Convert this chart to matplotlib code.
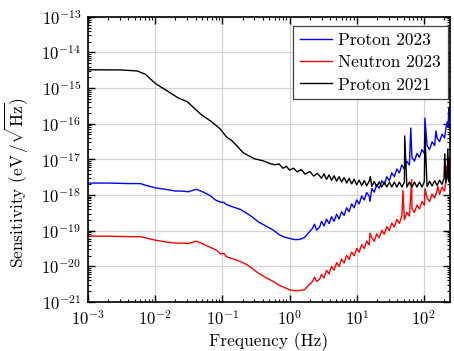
import numpy as np
import matplotlib
matplotlib.use("Agg")
import matplotlib.pyplot as plt
from matplotlib.ticker import LogLocator, NullFormatter

plt.rcParams['font.family'] = 'serif'
plt.rcParams['font.serif'] = ['cmr10']
plt.rcParams['mathtext.fontset'] = 'cm'
plt.rcParams['axes.formatter.use_mathtext'] = True
plt.rcParams['axes.unicode_minus'] = False

# Proton 2023 (blue)
freq_p23 = [0.001, 0.002, 0.004, 0.006, 0.007, 0.01, 0.015, 0.02, 0.025, 0.031, 0.041, 0.052,
            0.065, 0.081, 0.095, 0.105, 0.115, 0.146, 0.185, 0.236, 0.29, 0.344, 0.45, 0.577,
            0.7, 0.81, 1.0, 1.2, 1.41, 1.67, 1.9, 2.2, 2.36, 2.53, 2.8,
            3.0, 3.27, 3.56, 3.88, 4.23, 4.61, 5.03, 5.48, 5.97, 6.51, 7.1, 7.73, 8.43, 9.19,
            10.0, 10.9, 11.9, 13.0, 14.1, 15.4, 15.8, 16.8, 18.3, 19.9, 21.7, 23.7, 25.8,
            28.1, 30.7, 33.4, 36.4, 39.7, 43.3, 47.2, 51.4, 56.0, 61.1, 64, 66.6, 72.6, 79.1,
            86.2, 94.0, 102, 104, 112, 122, 133, 145, 152, 158, 172, 187, 204, 213, 223, 230,
            236, 240, 245]
sens_p23 = [2.16e-18, 2.16e-18, 2.09e-18, 2.09e-18, 1.90e-18, 1.59e-18, 1.42e-18, 1.29e-18,
            1.29e-18, 1.23e-18, 1.45e-18, 1.20e-18, 9.7e-19, 7.03e-19, 6.3e-19, 6.18e-19,
            5.4e-19, 4.57e-19, 3.94e-19, 2.99e-19, 2.29e-19, 1.75e-19, 1.33e-19, 1.03e-19,
            7.69e-20, 6.7e-20, 6.03e-20, 5.58e-20, 5.65e-20, 6.4e-20, 8.47e-20, 1.15e-19,
            1.51e-19, 1.03e-19, 1.24e-19,
            1.82e-19, 1.35e-19, 2.09e-19, 1.58e-19, 2.45e-19, 1.82e-19, 2.88e-19, 2.14e-19,
            3.39e-19, 2.66e-19, 4.37e-19, 3.41e-19, 5.62e-19, 4.37e-19, 7.24e-19, 5.62e-19,
            9.33e-19, 7.24e-19, 1.17e-18, 9.33e-19, 6.61e-19, 1.51e-18, 1.20e-18, 1.95e-18,
            1.53e-18, 2.51e-18, 2.00e-18, 3.24e-18, 2.54e-18, 4.17e-18, 3.26e-18, 5.37e-18,
            4.19e-18, 6.92e-18, 5.37e-18, 8.81e-18, 6.92e-18, 7.59e-17, 1.13e-17, 8.91e-18,
            1.46e-17, 1.15e-17, 1.87e-17, 1.46e-17, 1.44e-16, 2.42e-17, 1.89e-17, 3.11e-17,
            2.43e-17, 6.31e-17, 4.00e-17, 3.13e-17, 5.11e-17, 4.01e-17, 7.08e-17, 1.12e-16,
            7.94e-17, 2.82e-16, 1.41e-16, 2.51e-16]

# Neutron 2023 (red)
freq_n23 = [0.001, 0.002, 0.004, 0.006, 0.007, 0.01, 0.015, 0.02, 0.025, 0.031, 0.041, 0.052,
            0.065, 0.081, 0.095, 0.105, 0.115, 0.146, 0.185, 0.236, 0.29, 0.344, 0.45, 0.577,
            0.7, 0.81, 1.0, 1.2, 1.41, 1.67, 1.9, 2.2, 2.36, 2.53, 2.8,
            3.0, 3.27, 3.56, 3.88, 4.23, 4.61, 5.03, 5.48, 5.97, 6.51, 7.1, 7.73, 8.43, 9.19,
            10.0, 10.9, 11.9, 13.0, 14.1, 15.4, 15.8, 16.8, 18.3, 19.9, 21.7, 23.7, 25.8,
            28.1, 30.7, 33.4, 36.4, 39.7, 43.3, 47.2, 49, 51.4, 56.0, 61.1, 66, 66.6, 72.6,
            79.1, 86.2, 94.0, 102, 104, 112, 122, 133, 145, 158, 162, 172, 187, 204, 213, 220,
            228, 236, 240, 245]
sens_n23 = [6.98e-20, 6.98e-20, 6.76e-20, 6.76e-20, 6.34e-20, 5.40e-20, 4.75e-20, 4.46e-20,
            4.46e-20, 4.32e-20, 5.07e-20, 4.18e-20, 3.45e-20, 2.84e-20, 2.20e-20, 2.30e-20,
            1.85e-20, 1.60e-20, 1.36e-20, 1.09e-20, 8.15e-21, 6.38e-21, 4.72e-21, 3.72e-21,
            2.92e-21, 2.60e-21, 2.19e-21, 2.05e-21, 2.09e-21, 2.19e-21, 2.83e-21, 3.72e-21,
            4.94e-21, 3.72e-21, 4.29e-21,
            5.89e-21, 4.68e-21, 7.67e-21, 6.08e-21, 9.93e-21, 7.73e-21, 1.26e-20, 9.77e-21,
            1.58e-20, 1.23e-20, 2.00e-20, 1.55e-20, 2.51e-20, 1.96e-20, 3.16e-20, 2.47e-20,
            4.04e-20, 3.14e-20, 5.07e-20, 3.95e-20, 8.51e-20, 6.41e-20, 4.99e-20, 8.09e-20,
            6.28e-20, 1.02e-19, 7.94e-20, 1.29e-19, 1.00e-19, 1.63e-19, 1.26e-19, 2.06e-19,
            1.60e-19, 2.60e-19, 1.33e-18, 2.02e-19, 3.27e-19, 2.55e-19, 2.70e-18, 4.14e-19,
            3.22e-19, 5.22e-19, 4.07e-19, 6.61e-19, 5.11e-19, 1.51e-18, 8.36e-19, 6.49e-19,
            1.06e-18, 8.20e-19, 1.33e-18, 1.74e-18, 1.04e-18, 1.67e-18, 1.30e-18, 2.51e-18,
            6.31e-18, 3.16e-18, 1.12e-17, 3.98e-18, 5.01e-18]

# Proton 2021 (black)
freq_p21 = [0.001, 0.003, 0.0054, 0.0072, 0.01, 0.014, 0.022, 0.03, 0.048, 0.069, 0.093,
            0.115, 0.14, 0.205, 0.3, 0.4, 0.52, 0.6,
            0.7, 0.8, 0.9, 1.0, 1.15, 1.3, 1.5, 1.7, 2.0, 2.3, 2.6,
            3.0, 3.27, 3.56, 3.88, 4.23, 4.61, 5.03, 5.48, 5.97, 6.51, 7.1, 7.73, 8.43, 9.19,
            10.0, 10.9, 11.9, 13.0, 14.1, 15.4, 16, 16.8, 18.3, 19.9, 21.7, 23.7, 25.8, 28.1,
            30.7, 33.4, 36.4, 39.7, 43.3, 47.2, 51.4, 52, 56.0, 61.1, 66.6, 72.6, 79.1, 86.2,
            94.0, 102, 104, 112, 122, 133, 145, 158, 172, 187, 200, 206, 213, 223, 228, 236,
            243, 245]
sens_p21 = [3.27e-15, 3.24e-15, 3.03e-15, 2.42e-15, 1.36e-15, 9.08e-16, 5.30e-16, 4.15e-16,
            1.83e-16, 1.14e-16, 7.1e-17, 4.26e-17, 3.30e-17, 1.53e-17, 1.04e-17, 9.14e-18,
            7.54e-18, 7.08e-18,
            7.41e-18, 5.62e-18, 6.37e-18, 4.99e-18, 5.64e-18, 4.45e-18, 5.14e-18, 3.87e-18,
            4.54e-18, 3.39e-18, 4.05e-18,
            2.97e-18, 3.89e-18, 2.74e-18, 3.67e-18, 2.59e-18, 3.47e-18, 2.44e-18, 3.27e-18,
            2.30e-18, 3.09e-18, 2.17e-18, 2.92e-18, 2.05e-18, 2.75e-18, 1.94e-18, 2.61e-18,
            1.86e-18, 2.53e-18, 1.81e-18, 2.46e-18, 3.31e-18, 1.75e-18, 2.39e-18, 1.71e-18,
            2.32e-18, 1.67e-18, 2.30e-18, 1.67e-18, 2.30e-18, 1.67e-18, 2.30e-18, 1.67e-18,
            2.30e-18, 1.67e-18, 2.30e-18, 4.54e-17, 1.67e-18, 2.30e-18, 1.67e-18, 2.30e-18,
            1.67e-18, 2.30e-18, 1.68e-18, 2.36e-18, 5.16e-17, 1.73e-18, 2.43e-18, 1.79e-18,
            2.52e-18, 1.85e-18, 2.60e-18, 1.98e-18, 2.87e-18, 1.43e-17, 2.19e-18, 3.09e-18,
            1.97e-17, 2.34e-18, 3.39e-18, 2.82e-18]

fig = plt.figure(figsize=(4.54, 3.51), dpi=100)
ax = fig.add_axes([0.194, 0.14, 0.797, 0.812])

ax.plot(freq_p23, sens_p23, color='blue', lw=1.0, label='Proton 2023')
ax.plot(freq_n23, sens_n23, color='red', lw=1.0, label='Neutron 2023')
ax.plot(freq_p21, sens_p21, color='black', lw=1.0, label='Proton 2021')

ax.set_xscale('log')
ax.set_yscale('log')
ax.set_xlim(1e-3, 245)
ax.set_ylim(1e-21, 1e-13)
ax.xaxis.set_major_locator(LogLocator(base=10, numticks=20))
ax.yaxis.set_major_locator(LogLocator(base=10, numticks=20))
for axis in (ax.xaxis, ax.yaxis):
    axis.set_minor_locator(LogLocator(base=10, subs=np.arange(2, 10), numticks=200))
    axis.set_minor_formatter(NullFormatter())

ax.grid(True, which='major', color='#d3d3d3', lw=0.9)
ax.set_axisbelow(True)
ax.tick_params(which='both', direction='in', top=True, right=True, labelsize=12)
ax.tick_params(which='major', length=5, width=1.0, pad=5)
ax.tick_params(which='minor', length=2.5, width=0.8)
for s in ax.spines.values():
    s.set_linewidth(1.2)

ax.set_xlabel('Frequency (Hz)', fontsize=12.5, labelpad=3)
ax.set_ylabel(r'Sensitivity $(\mathrm{eV}\,/\sqrt{\mathrm{Hz}})$', fontsize=12.5)
ax.yaxis.set_label_coords(-0.157, 0.42)

leg = ax.legend(loc='upper right', bbox_to_anchor=(0.994, 0.969), borderaxespad=0,
                fontsize=12.5, fancybox=False, framealpha=1, edgecolor='#444444',
                handlelength=1.85, handletextpad=0.35, labelspacing=0.4, borderpad=0.4)
leg.get_frame().set_linewidth(0.9)

fig.savefig('out.png', dpi=100)
